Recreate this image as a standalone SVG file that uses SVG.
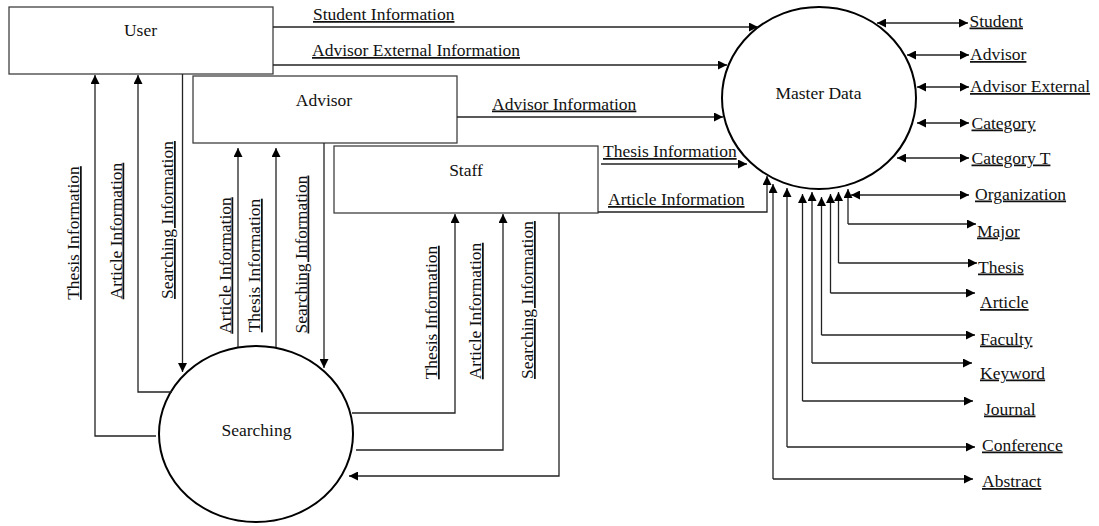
<svg xmlns="http://www.w3.org/2000/svg" width="1099" height="526" viewBox="0 0 1099 526">
  <style>
    .bg { fill: #ffffff; }
    .box { fill: #ffffff; stroke: #404040; stroke-width: 1.3; }
    .proc { fill: #ffffff; stroke: #000000; stroke-width: 2; }
    .name { font-family: "Liberation Serif", "Times New Roman", serif; font-size: 17.5px; fill: #111111; }
    .lbl { font-family: "Liberation Serif", "Times New Roman", serif; font-size: 17.5px; fill: #111111; text-decoration: underline; }
    .flow { fill: none; stroke: #222222; stroke-width: 1.3; }
    .one { marker-end: url(#head); }
    .two { marker-start: url(#head); marker-end: url(#head); }
  </style>
  <defs>
    <marker id="head" viewBox="0 0 10 10" refX="10" refY="5" markerWidth="10" markerHeight="9" markerUnits="userSpaceOnUse" orient="auto-start-reverse">
      <path d="M0,0 L10,5 L0,10 z" fill="#000000"/>
    </marker>
  </defs>

  <rect class="bg" x="0" y="0" width="1099" height="526"/>

  <!-- external entities -->
  <g id="user">
    <rect class="box" x="9" y="7" width="264" height="67"/>
    <text class="name" x="140.5" y="36" text-anchor="middle">User</text>
  </g>
  <g id="advisor">
    <rect class="box" x="193" y="76" width="264" height="67"/>
    <text class="name" x="324" y="106" text-anchor="middle">Advisor</text>
  </g>
  <g id="staff">
    <rect class="box" x="334" y="146" width="264" height="67"/>
    <text class="name" x="466" y="176" text-anchor="middle">Staff</text>
  </g>

  <!-- processes -->
  <g id="master-data">
    <ellipse class="proc" cx="819" cy="98" rx="97" ry="91"/>
    <text class="name" x="818.5" y="99" text-anchor="middle">Master Data</text>
  </g>
  <g id="searching">
    <ellipse class="proc" cx="256" cy="434" rx="97" ry="88"/>
    <text class="name" x="256.5" y="436" text-anchor="middle">Searching</text>
  </g>

  <!-- data flows -->
  <g id="connectors">
    <!-- entities to Master Data -->
    <path class="flow one" d="M273,27 H758"/>
    <path class="flow one" d="M273,65 H727"/>
    <path class="flow one" d="M457,117 H723"/>
    <path class="flow one" d="M601,164 H747"/>
    <path class="flow one" d="M598,212 H767 V176"/>

    <!-- Master Data tables (two-way) -->
    <path class="flow two" d="M877,23 H968"/>
    <path class="flow two" d="M907,55 H969"/>
    <path class="flow two" d="M917,87 H969"/>
    <path class="flow two" d="M917,123 H969"/>
    <path class="flow two" d="M897,158 H969"/>
    <path class="flow two" d="M851,195 H969"/>

    <!-- Master Data tables (loops below the circle) -->
    <path class="flow one" d="M848,224 V189"/>
    <path class="flow one" d="M848,224 H976"/>
    <path class="flow one" d="M838.5,263 V192"/>
    <path class="flow one" d="M838.5,263 H977"/>
    <path class="flow one" d="M830.5,293 V194"/>
    <path class="flow one" d="M830.5,293 H975"/>
    <path class="flow one" d="M821.5,335 V197"/>
    <path class="flow one" d="M821.5,335 H975"/>
    <path class="flow one" d="M812,363 V192"/>
    <path class="flow one" d="M812,363 H972"/>
    <path class="flow one" d="M802.5,401 V194"/>
    <path class="flow one" d="M802.5,401 H973"/>
    <path class="flow one" d="M787,447 V188"/>
    <path class="flow one" d="M787,447 H975"/>
    <path class="flow one" d="M773,479 V184"/>
    <path class="flow one" d="M773,479 H973"/>

    <!-- Searching to and from User -->
    <path class="flow one" d="M156,436 H95 V75"/>
    <path class="flow one" d="M172,392 H138 V75"/>
    <path class="flow one" d="M182.5,74 V372"/>

    <!-- Searching to and from Advisor -->
    <path class="flow one" d="M238,347 V148"/>
    <path class="flow one" d="M276,347 V148"/>
    <path class="flow one" d="M324,143 V368"/>

    <!-- Searching to and from Staff -->
    <path class="flow one" d="M352,413 H455 V214"/>
    <path class="flow one" d="M356,450 H503 V214"/>
    <path class="flow one" d="M559,213 V476 H349"/>
  </g>

  <!-- flow labels -->
  <g id="flow-labels">
    <text class="lbl" x="313" y="20">Student Information</text>
    <text class="lbl" x="312" y="56">Advisor External Information</text>
    <text class="lbl" x="492" y="109.5">Advisor Information</text>
    <text class="lbl" x="603" y="157">Thesis Information</text>
    <text class="lbl" x="608" y="205">Article Information</text>

    <text class="lbl" text-anchor="middle" transform="translate(79,233) rotate(-90)">Thesis Information</text>
    <text class="lbl" text-anchor="middle" transform="translate(121.5,231) rotate(-90)">Article Information</text>
    <text class="lbl" text-anchor="middle" transform="translate(173,220) rotate(-90)">Searching Information</text>

    <text class="lbl" text-anchor="middle" transform="translate(230.5,265.5) rotate(-90)">Article Information</text>
    <text class="lbl" text-anchor="middle" transform="translate(260,265.5) rotate(-90)">Thesis Information</text>
    <text class="lbl" text-anchor="middle" transform="translate(306.5,254.5) rotate(-90)">Searching Information</text>

    <text class="lbl" text-anchor="middle" transform="translate(437,312.5) rotate(-90)">Thesis Information</text>
    <text class="lbl" text-anchor="middle" transform="translate(481,311) rotate(-90)">Article Information</text>
    <text class="lbl" text-anchor="middle" transform="translate(533,300) rotate(-90)">Searching Information</text>
  </g>

  <!-- data store names -->
  <g id="tables">
    <text class="lbl" x="969.5" y="26.5">Student</text>
    <text class="lbl" x="970" y="60">Advisor</text>
    <text class="lbl" x="970" y="92">Advisor External</text>
    <text class="lbl" x="971.5" y="128.5">Category</text>
    <text class="lbl" x="971.5" y="163.5">Category T</text>
    <text class="lbl" x="975" y="199.5">Organization</text>
    <text class="lbl" x="977" y="236.5">Major</text>
    <text class="lbl" x="978" y="272.5">Thesis</text>
    <text class="lbl" x="980" y="308">Article</text>
    <text class="lbl" x="980" y="344.5">Faculty</text>
    <text class="lbl" x="980" y="378.5">Keyword</text>
    <text class="lbl" x="984" y="414.5">Journal</text>
    <text class="lbl" x="982" y="450.5">Conference</text>
    <text class="lbl" x="982" y="487">Abstract</text>
  </g>
</svg>
